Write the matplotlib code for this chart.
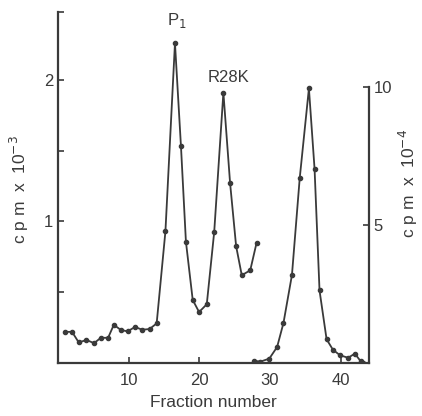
import matplotlib.pyplot as plt

# left scale: P1 and R28K profile (cpm x 10^-3)
frac_a = [0.95, 1.99, 2.94, 4.03, 5.1, 6.06, 7.09, 7.9, 8.85, 9.84, 10.9, 11.9, 12.96, 13.96,
          15.2, 16.55, 17.4, 18.1, 19.06, 19.96, 21.05, 22.1, 23.4, 24.35, 25.2, 26.0, 27.2, 28.1]
cpm_a = [0.22, 0.22, 0.145, 0.163, 0.14, 0.178, 0.178, 0.27, 0.235, 0.223, 0.255, 0.235, 0.24, 0.28,
         0.93, 2.26, 1.53, 0.857, 0.446, 0.36, 0.415, 0.925, 1.91, 1.27, 0.826, 0.62, 0.655, 0.85]

# right scale: second run (cpm x 10^-4)
frac_b = [27.8, 28.65, 29.9, 31.0, 31.9, 33.1, 34.2, 35.5, 36.3, 37.0, 38.0, 38.9, 39.9, 41.05,
          42.0, 42.8, 43.2]
cpm_b = [0.08, 0.05, 0.16, 0.58, 1.45, 3.19, 6.7, 9.95, 7.03, 2.63, 0.86, 0.48, 0.28, 0.19,
         0.34, 0.07, 0.0]

xticks = [10, 20, 30, 40]
col = '#3a3a3a'
plt.rcParams['font.family'] = ['Liberation Sans', 'DejaVu Sans']

fig = plt.figure(figsize=(4.22, 4.16), dpi=100)
ax = fig.add_axes([0.1374, 0.1274, 0.737, 0.8438])
ax2 = ax.twinx()

ax.plot(frac_a, cpm_a, '-o', color=col, lw=1.3, ms=3.0)
ax2.plot(frac_b, cpm_b, '-o', color=col, lw=1.3, ms=3.0)

ax.set_xlim(0, 44)
ax.set_ylim(0, 2.48)
ax2.set_ylim(0, 12.72)

for a in (ax, ax2):
    a.spines['top'].set_visible(False)
    for s in a.spines.values():
        s.set_color(col)
        s.set_linewidth(1.6)
ax.spines['right'].set_visible(False)
ax2.spines['left'].set_visible(False)
ax2.spines['bottom'].set_visible(False)
ax2.spines['right'].set_bounds(0, 10)

ax.set_xticks(xticks)
ax.set_yticks([0.5, 1, 1.5, 2, 2.48])
ax.set_yticklabels(['', '1', '', '2', ''])
ax2.set_yticks([5, 10])
ax.tick_params(direction='in', length=4, width=1.2, color=col, labelsize=12, labelcolor=col)
ax.tick_params(axis='x', pad=7)
ax2.tick_params(direction='in', length=4, width=1.2, color=col, labelsize=12, labelcolor=col)

ax.set_xlabel('Fraction number', fontsize=12.5, color=col, labelpad=5)
fig.text(0.045, 0.545, 'c p m  x  10$^{-3}$', rotation=90, fontsize=12.5, color=col,
         ha='center', va='center')
fig.text(0.967, 0.56, 'c p m  x  10$^{-4}$', rotation=90, fontsize=12.5, color=col,
         ha='center', va='center')

ax.text(16.85, 2.42, 'P$_1$', fontsize=12, color=col, ha='center', va='center')
ax.text(24.1, 2.02, 'R28K', fontsize=12, color=col, ha='center', va='center')

fig.savefig('out.png', dpi=100)
